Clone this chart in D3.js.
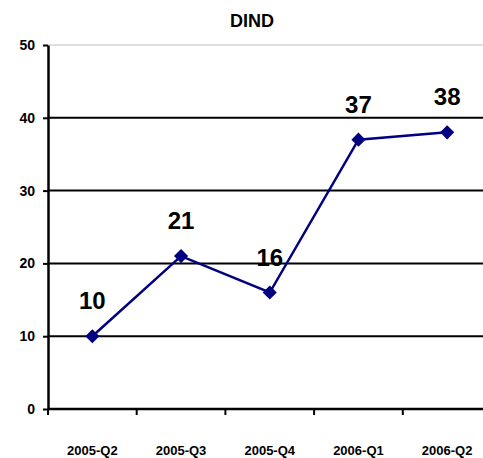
<!DOCTYPE html>
<html>
<head>
<meta charset="utf-8">
<script src="https://d3js.org/d3.v7.min.js"></script>
<style>
  body { margin: 0; background: #fff; }
  svg text { font-family: Arial, "Liberation Sans", sans-serif; font-weight: bold; }
</style>
</head>
<body>
<script>
var categories = ["2005-Q2", "2005-Q3", "2005-Q4", "2006-Q1", "2006-Q2"];
var values = [10, 21, 16, 37, 38];
var yTicks = [0, 10, 20, 30, 40, 50];
var title = "DIND";

var width = 483, height = 458;
var plotLeft = 48, plotTop = 45, plotBottom = 409, plotRight = 491.5;

var svg = d3.select("body").append("svg")
    .attr("width", width)
    .attr("height", height);

var x = d3.scaleBand().domain(categories).range([plotLeft, plotRight]).padding(0);
var y = d3.scaleLinear().domain([0, 50]).range([plotBottom, plotTop]);

// gridlines (top one is light gray, rest black)
svg.append("g").selectAll("line")
    .data(yTicks.filter(function(d) { return d > 0; }))
    .enter().append("line")
    .attr("x1", plotLeft).attr("x2", plotRight)
    .attr("y1", function(d) { return y(d); })
    .attr("y2", function(d) { return y(d); })
    .attr("stroke", function(d) { return d == 50 ? "#c0c0c0" : "#000"; })
    .attr("stroke-width", function(d) { return d == 50 ? 1 : 2; });

// y axis
var yAxis = svg.append("g")
    .attr("transform", "translate(" + plotLeft + ",0)")
    .call(d3.axisLeft(y).tickValues(yTicks).tickSize(5).tickSizeOuter(0).tickPadding(8));
yAxis.select(".domain").attr("stroke-width", 2.5);
yAxis.selectAll(".tick line").attr("stroke-width", 2);
yAxis.selectAll("text").style("font-size", "14px").attr("fill", "#000");

// x axis, ticks at band boundaries
var xAxis = svg.append("g")
    .attr("transform", "translate(0," + plotBottom + ")");
xAxis.append("line")
    .attr("x1", plotLeft).attr("x2", plotRight)
    .attr("stroke", "#000").attr("stroke-width", 2.5);
xAxis.selectAll(".tk")
    .data(categories)
    .enter().append("line")
    .attr("class", "tk")
    .attr("x1", function(d) { return x(d); })
    .attr("x2", function(d) { return x(d); })
    .attr("y1", 0).attr("y2", 6)
    .attr("stroke", "#000").attr("stroke-width", 2);
xAxis.selectAll("text")
    .data(categories)
    .enter().append("text")
    .attr("x", function(d) { return x(d) + x.bandwidth() / 2; })
    .attr("y", 46)
    .attr("text-anchor", "middle")
    .style("font-size", "13px")
    .text(function(d) { return d; });

// line
var line = d3.line()
    .x(function(d, i) { return x(categories[i]) + x.bandwidth() / 2; })
    .y(function(d) { return y(d); });

svg.append("path")
    .datum(values)
    .attr("d", line)
    .attr("fill", "none")
    .attr("stroke", "#000080")
    .attr("stroke-width", 2.5);

svg.append("g").selectAll("path")
    .data(values)
    .enter().append("path")
    .attr("d", d3.symbol().type(d3.symbolSquare).size(100))
    .attr("transform", function(d, i) {
        return "translate(" + (x(categories[i]) + x.bandwidth() / 2) + "," + y(d) + ") rotate(45)";
    })
    .attr("fill", "#000080");

// data labels
svg.append("g").selectAll("text")
    .data(values)
    .enter().append("text")
    .attr("x", function(d, i) { return x(categories[i]) + x.bandwidth() / 2; })
    .attr("y", function(d) { return y(d) - 27; })
    .attr("text-anchor", "middle")
    .style("font-size", "24px")
    .text(function(d) { return d; });

// title
svg.append("text")
    .attr("x", 252)
    .attr("y", 27)
    .attr("text-anchor", "middle")
    .style("font-size", "18px")
    .text(title);
</script>
</body>
</html>
